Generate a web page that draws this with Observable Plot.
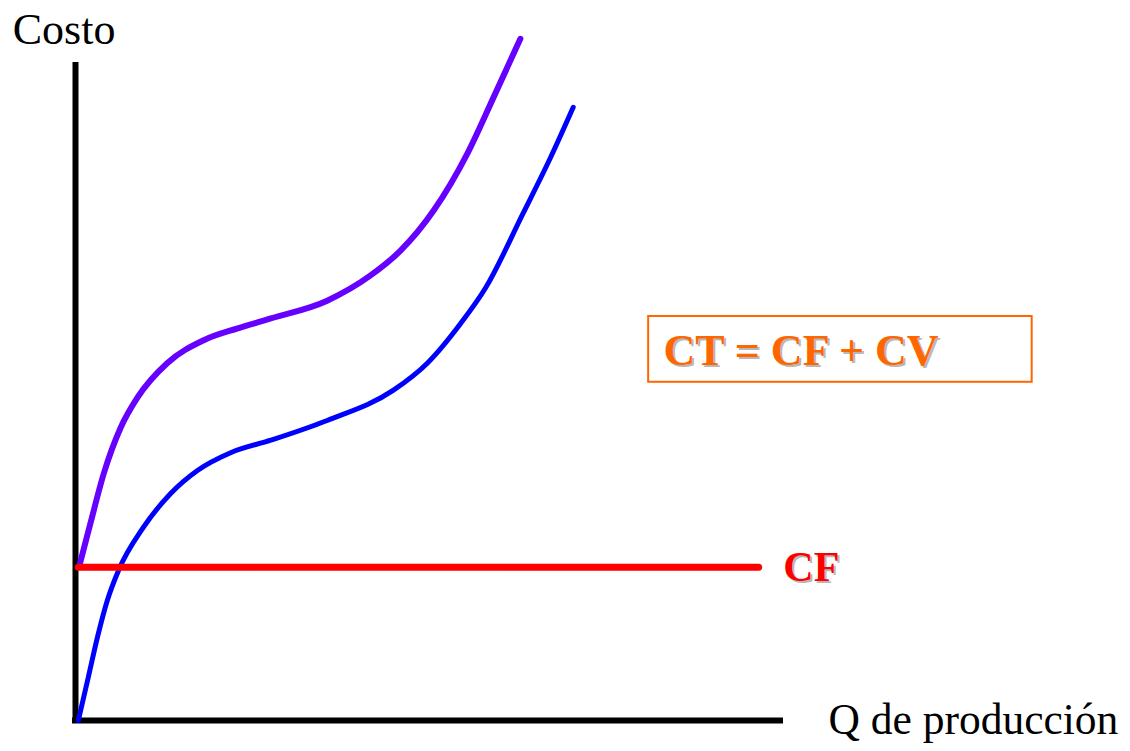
<!DOCTYPE html>
<html>
<head>
<meta charset="utf-8">
<script src="https://cdn.jsdelivr.net/npm/d3@7"></script>
<script src="https://cdn.jsdelivr.net/npm/@observablehq/plot@0.6"></script>
<style>
  html, body { margin: 0; padding: 0; background: #fff; }
  #chart svg { display: block; }
</style>
</head>
<body>
<div id="chart"></div>
<script>
// Quantity (Q de producción) and cost readings
const qCV = [0.4, 1.8, 3.1, 4.5, 6.1, 9.6, 13.5, 17.3, 22.0, 27.7, 35.7, 45.1, 49.9, 54.6, 58.2, 63.5, 67.4, 70.6];
const costCV = [0, 6.5, 12.6, 18.2, 22.8, 29.3, 34.5, 38.0, 40.7, 42.6, 45.6, 50.2, 54.3, 60.3, 65.8, 77.1, 85.6, 93.2];
const qCT = [0.5, 2.1, 4.0, 6.4, 8.8, 13.0, 18.2, 23.0, 27.7, 35.7, 41.8, 46.1, 50.8, 55.6, 59.3, 63.1];
const costCT = [23.3, 29.9, 37.5, 44.5, 49.1, 54.3, 57.8, 59.6, 61.1, 63.8, 67.6, 71.4, 77.5, 86.2, 94.7, 103.6];
const qCF = [0.4, 96.9];
const costCF = 23.3;
const labelY = "Costo";
const labelX = "Q de producción";
const labelCF = "CF";
const labelFormula = "CT = CF + CV";

const cvData = qCV.map((q, i) => ({q, c: costCV[i]}));
const ctData = qCT.map((q, i) => ({q, c: costCT[i]}));
const cfData = qCF.map(q => ({q, c: costCF}));

const serif = "'Liberation Serif', 'DejaVu Serif', serif";

const chart = Plot.plot({
  width: 1130,
  height: 751,
  marginLeft: 75,
  marginRight: 350,
  marginTop: 62,
  marginBottom: 31,
  x: {domain: [0, 100], axis: null},
  y: {domain: [0, 100], axis: null},
  style: {background: "#fff", overflow: "visible"},
  marks: [
    // axes
    Plot.ruleX([0], {y1: 0, y2: 100, stroke: "#000", strokeWidth: 6}),
    Plot.ruleY([0], {x1: 0, x2: 100, stroke: "#000", strokeWidth: 6, strokeLinecap: "square"}),
    // curves
    Plot.line(cvData, {x: "q", y: "c", curve: "monotone-x", stroke: "#0000FF", strokeWidth: 5}),
    Plot.line(ctData, {x: "q", y: "c", curve: "monotone-x", stroke: "#6600FF", strokeWidth: 6}),
    Plot.line(cfData, {x: "q", y: "c", stroke: "#FF0000", strokeWidth: 7}),
    // axis labels
    Plot.text([labelY], {x: -8.9, y: 105, text: d => d, textAnchor: "start", fontSize: 44, fontFamily: serif, fill: "#000"}),
    Plot.text([labelX], {x: 106.8, y: 0, text: d => d, textAnchor: "start", fontSize: 43.5, fontFamily: serif, fill: "#000"}),
    // CF label with shadow
    Plot.text([labelCF], {x: 100.4, y: costCF, text: d => d, textAnchor: "start", fontSize: 42, fontWeight: "bold", fontFamily: serif, fill: "#b8b8b8", dx: 2, dy: 2}),
    Plot.text([labelCF], {x: 100.4, y: costCF, text: d => d, textAnchor: "start", fontSize: 42, fontWeight: "bold", fontFamily: serif, fill: "#FF0000"}),
    // formula box
    Plot.rect([labelFormula], {x1: 81.3, x2: 135.7, y1: 51.4, y2: 61.4, fill: "none", stroke: "#FF6600", strokeWidth: 2}),
    Plot.text([labelFormula], {x: 83.4, y: 56.2, text: d => d, textAnchor: "start", fontSize: 44, fontWeight: "bold", fontFamily: serif, fill: "#b8b8b8", dx: 2, dy: 2}),
    Plot.text([labelFormula], {x: 83.4, y: 56.2, text: d => d, textAnchor: "start", fontSize: 44, fontWeight: "bold", fontFamily: serif, fill: "#FF6600"})
  ]
});
document.getElementById("chart").append(chart);
</script>
</body>
</html>
